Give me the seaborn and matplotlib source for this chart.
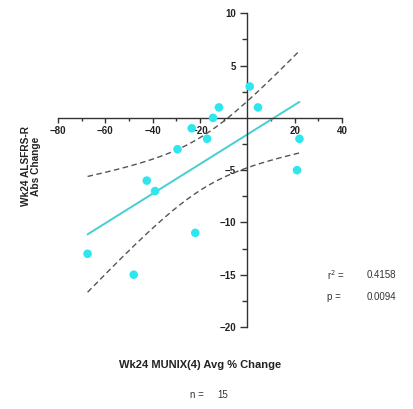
import numpy as np
import pandas as pd
import matplotlib
matplotlib.use("Agg")
import matplotlib.pyplot as plt
from matplotlib.ticker import FixedLocator
import seaborn as sns

# Per-patient changes at week 24
munix_change = [1, -12, 4.5, -14.5, -23.5, -17, 22, -29.5, 21, -42.5, -39, -22, -67.5, -48]
alsfrs_change = [3, 1, 1, 0, -1, -2, -2, -3, -5, -6, -7, -11, -13, -15]

x_ticks = [-80, -60, -40, -20, 20, 40]
y_ticks = [10, 5, -5, -10, -15, -20]

r_squared_text = "0.4158"
p_value_text = "0.0094"
n_text = "15"

sns.set_theme(style="white")
plt.rcParams["font.family"] = ["Liberation Sans", "DejaVu Sans"]

df = pd.DataFrame({"munix": munix_change, "alsfrs": alsfrs_change})

# Linear fit with analytic 95% confidence band for the mean
x = df["munix"].to_numpy(float)
y = df["alsfrs"].to_numpy(float)
n = len(x)
slope, intercept = np.polyfit(x, y, 1)
resid = y - (slope * x + intercept)
s = np.sqrt(np.sum(resid ** 2) / (n - 2))
t_crit = 2.179  # two-sided 95%, df = 12
xg = np.linspace(x.min(), x.max(), 200)
yg = slope * xg + intercept
se = s * np.sqrt(1 / n + (xg - x.mean()) ** 2 / np.sum((x - x.mean()) ** 2))
fit = pd.DataFrame({"x": xg, "fit": yg, "upper": yg + t_crit * se, "lower": yg - t_crit * se})

fig = plt.figure(figsize=(4.14, 4.09), dpi=100)
ax = fig.add_axes([0.1401, 0.2005, 0.686, 0.767])

sns.lineplot(data=fit, x="x", y="upper", ax=ax, color="#555555", lw=1.0,
             linestyle=(0, (4, 2.5)))
sns.lineplot(data=fit, x="x", y="lower", ax=ax, color="#555555", lw=1.0,
             linestyle=(0, (4, 2.5)))
sns.lineplot(data=fit, x="x", y="fit", ax=ax, color="#45CFD2", lw=1.4)
sns.scatterplot(data=df, x="munix", y="alsfrs", ax=ax, color="#2EE6EE",
                s=38, edgecolor="none", zorder=5)

ax.set_xlim(-80, 40)
ax.set_ylim(-20, 10)

# Axes crossing at the origin
for side in ("top", "right"):
    ax.spines[side].set_visible(False)
ax.spines["left"].set_position(("data", 0))
ax.spines["bottom"].set_position(("data", 0))
for side in ("left", "bottom"):
    ax.spines[side].set_color("#333333")
    ax.spines[side].set_linewidth(1.0)

ax.xaxis.set_major_locator(FixedLocator(x_ticks))
ax.xaxis.set_minor_locator(FixedLocator([-70, -50, -30, -10, 10, 30]))
ax.yaxis.set_major_locator(FixedLocator(y_ticks))
ax.yaxis.set_minor_locator(FixedLocator([7.5, 2.5, -2.5, -7.5, -12.5, -17.5]))
ax.tick_params(axis="x", which="major", direction="out", length=3.5, width=1,
               color="#333333", labelsize=7, pad=2.5, bottom=True)
ax.tick_params(axis="x", which="minor", direction="out", length=2.5, width=1,
               color="#333333", bottom=True)
ax.tick_params(axis="y", which="major", direction="out", length=5, width=1,
               color="#333333", labelsize=7, pad=3, left=True)
ax.tick_params(axis="y", which="minor", direction="out", length=3.5, width=1,
               color="#333333", left=True)
for lab in ax.get_xticklabels() + ax.get_yticklabels():
    lab.set_fontweight("bold")
    lab.set_color("#222222")

ax.set_xlabel("")
ax.set_ylabel("")
fig.text(0.075, 0.593, "Wk24 ALSFRS-R\nAbs Change", rotation=90, ha="center",
         va="center", fontsize=7.3, fontweight="bold", color="#222222",
         multialignment="center", linespacing=1.05)
fig.text(0.483, 0.108, "Wk24 MUNIX(4) Avg % Change", ha="center", va="center",
         fontsize=8, fontweight="bold", color="#222222")

fig.text(0.476, 0.034, "n =", ha="center", va="center", fontsize=7, color="#333333")
fig.text(0.539, 0.034, n_text, ha="center", va="center", fontsize=7, color="#333333")
fig.text(0.79, 0.327, "r$^2$ =", ha="left", va="center", fontsize=7, color="#333333")
fig.text(0.885, 0.327, r_squared_text, ha="left", va="center", fontsize=7, color="#333333")
fig.text(0.79, 0.274, "p =", ha="left", va="center", fontsize=7, color="#333333")
fig.text(0.885, 0.274, p_value_text, ha="left", va="center", fontsize=7, color="#333333")

fig.savefig("out.png", dpi=100)
